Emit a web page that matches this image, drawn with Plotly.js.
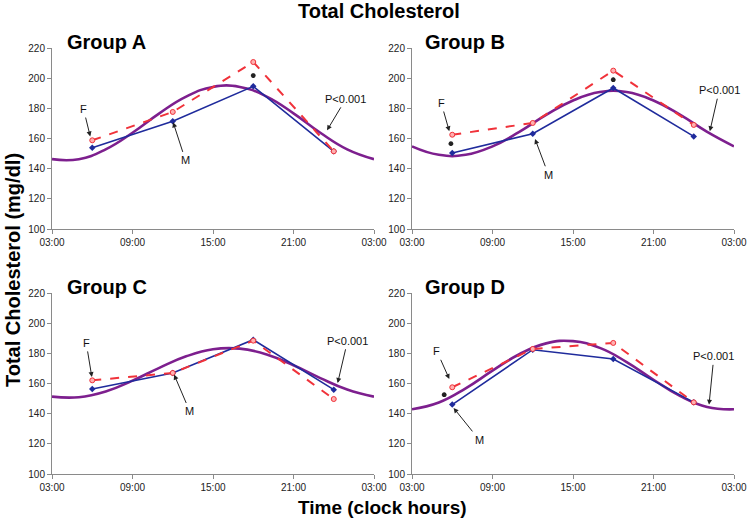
<!DOCTYPE html>
<html><head><meta charset="utf-8">
<script src="https://cdn.plot.ly/plotly-3.0.1.min.js"></script>
<style>html,body{margin:0;padding:0;background:#fff}#chart{width:749px;height:521px}</style>
</head><body><div id="chart"></div>
<script>
// Sampling times (clock hours; 6 = 06:00, 24 = 00:00)
const sampleHours = [6, 12, 18, 24];
// Cosinor curve sample hours (03:00 .. 03:00 next day)
const curveHours = [3, 5, 7, 9, 11, 13, 15, 17, 19, 21, 23, 25, 27];
const tickVals = [3, 9, 15, 21, 27];
const tickLabels = ["03:00", "09:00", "15:00", "21:00", "03:00"];
const groups = ["Group A", "Group B", "Group C", "Group D"];

// Females (F), red dashed
const femaleA = [158.8, 177.6, 210.7, 151.5];
const femaleB = [162.5, 170.3, 205.0, 169.0];
const femaleC = [162.1, 167.0, 188.4, 149.7];
const femaleD = [157.5, 182.9, 186.9, 147.5];
// Males (M), blue solid
const maleA = [153.9, 171.4, 194.6, 151.5];
const maleB = [150.4, 163.2, 193.5, 161.4];
const maleC = [156.4, 167.0, 189.0, 155.9];
const maleD = [146.0, 182.4, 176.2, 147.5];
// Fitted cosinor curves, purple
const cosinorA = [146.3, 146.3, 152.8, 163.8, 176.7, 187.8, 194.2, 194.2, 187.8, 176.7, 163.8, 152.8, 146.3];
const cosinorB = [154.8, 149.2, 149.2, 154.8, 164.4, 175.6, 185.2, 190.8, 190.8, 185.2, 175.6, 164.4, 154.8];
const cosinorC = [151.3, 150.9, 154.7, 161.9, 170.4, 178.0, 182.7, 183.1, 179.3, 172.1, 163.6, 156.0, 151.3];
const cosinorD = [142.9, 147.4, 156.8, 168.5, 179.4, 186.6, 188.1, 183.6, 174.2, 162.5, 151.6, 144.4, 142.9];
// Significance marks (*)
const starHours = [[18], [5.9, 18], [], [5.4]];
const starValues = [[201.7], [156.6, 199.0], [], [152.6]];
// Label arrows: [labelHour, labelValue, headHour, headValue]
const labelF = [[5.35, 179.5, 5.85, 161.4], [5.18, 183.5, 5.78, 164.8], [5.55, 186.9, 5.97, 164.3], [4.86, 181.3, 5.78, 163.0]];
const labelM = [[12.95, 145.5, 12.03, 170.7], [13.17, 136.0, 12.17, 159.7], [13.27, 141.5, 12.1, 165.9], [8.0, 122.8, 6.1, 143.8]];
const labelP = [[24.9, 186.2, 23.5, 165.4], [25.9, 192.0, 25.2, 164.8], [25.03, 188.3, 24.29, 160.3], [25.5, 178.0, 25.14, 146.0]];

const females = [femaleA, femaleB, femaleC, femaleD];
const males = [maleA, maleB, maleC, maleD];
const cosinors = [cosinorA, cosinorB, cosinorC, cosinorD];

const FONT = "Liberation Sans, Arial, Helvetica, sans-serif";
const W = 749, H = 521;
const xDom = [[52 / W, 374 / W], [412 / W, 734 / W], [52 / W, 374 / W], [412 / W, 734 / W]];
const yDom = [[1 - 229 / H, 1 - 48 / H], [1 - 229 / H, 1 - 48 / H], [1 - 474 / H, 1 - 293 / H], [1 - 474 / H, 1 - 293 / H]];
const groupPos = [[65, 42], [423, 42], [65, 287], [423, 287]];

const traces = [];
const layout = {
  width: W, height: H,
  margin: {l: 0, r: 0, t: 0, b: 0},
  paper_bgcolor: "#fff", plot_bgcolor: "#fff",
  showlegend: false,
  font: {family: FONT, color: "#222"},
  annotations: [],
};

for (let i = 0; i < 4; i++) {
  const sfx = i === 0 ? "" : String(i + 1);
  const xa = "x" + sfx, ya = "y" + sfx;
  traces.push({x: curveHours, y: cosinors[i], xaxis: xa, yaxis: ya, mode: "lines",
    line: {color: "#7d1f8e", width: 2.6, shape: "spline", smoothing: 1.3}, hoverinfo: "skip"});
  traces.push({x: sampleHours, y: males[i], xaxis: xa, yaxis: ya, mode: "lines+markers",
    line: {color: "#1f2b9c", width: 1.6},
    marker: {symbol: "diamond", size: 5, color: "#1f2b9c"}});
  traces.push({x: sampleHours, y: females[i], xaxis: xa, yaxis: ya, mode: "lines+markers",
    line: {color: "#f0323a", width: 2, dash: "dash"},
    marker: {symbol: "circle", size: 5, color: "#ffb0b0", line: {color: "#f0323a", width: 1}}});
  if (starHours[i].length) {
    traces.push({x: starHours[i], y: starValues[i], xaxis: xa, yaxis: ya, mode: "markers",
      marker: {symbol: "asterisk-open", size: 4, color: "#222", line: {color: "#222", width: 1.5}}});
  }
  layout["xaxis" + sfx] = {
    domain: xDom[i], range: [3, 27], anchor: ya,
    tickvals: tickVals, ticktext: tickLabels, tickangle: 0,
    showgrid: false, zeroline: false, showline: true, linecolor: "#8a8a8a", linewidth: 1,
    ticks: "outside", ticklen: 4, tickcolor: "#8a8a8a",
    tickfont: {family: FONT, size: 10, color: "#222"}, fixedrange: true
  };
  layout["yaxis" + sfx] = {
    domain: yDom[i], range: [100, 220], anchor: xa,
    tickvals: [100, 120, 140, 160, 180, 200, 220],
    showgrid: false, zeroline: false, showline: true, linecolor: "#8a8a8a", linewidth: 1,
    ticks: "outside", ticklen: 4, tickcolor: "#8a8a8a",
    tickfont: {family: FONT, size: 10, color: "#222"}, fixedrange: true
  };
  const labs = [["F", labelF[i]], ["M", labelM[i]], ["P<0.001", labelP[i]]];
  for (const [txt, p] of labs) {
    layout.annotations.push({
      xref: xa, yref: ya, axref: xa, ayref: ya,
      x: p[2], y: p[3], ax: p[0], ay: p[1],
      text: txt, showarrow: true, arrowhead: 2, arrowsize: 1, arrowwidth: 1, arrowcolor: "#222",
      font: {family: FONT, size: 11, color: "#111"}, standoff: 0, startstandoff: 1
    });
  }
  layout.annotations.push({
    xref: "paper", yref: "paper", x: groupPos[i][0] / W, y: 1 - groupPos[i][1] / H,
    xanchor: "left", yanchor: "middle", showarrow: false,
    text: "<b>" + groups[i] + "</b>", font: {family: FONT, size: 20, color: "#000"}
  });
}

layout.annotations.push({xref: "paper", yref: "paper", x: 379 / W, y: 1 - 11 / H, xanchor: "center", yanchor: "middle",
  showarrow: false, text: "<b>Total Cholesterol</b>", font: {family: FONT, size: 20, color: "#000"}});
layout.annotations.push({xref: "paper", yref: "paper", x: 382 / W, y: 1 - 507 / H, xanchor: "center", yanchor: "middle",
  showarrow: false, text: "<b>Time (clock hours)</b>", font: {family: FONT, size: 19, color: "#000"}});
layout.annotations.push({xref: "paper", yref: "paper", x: 13 / W, y: 1 - 270 / H, xanchor: "center", yanchor: "middle",
  showarrow: false, textangle: -90, text: "<b>Total Cholesterol (mg/dl)</b>", font: {family: FONT, size: 20, color: "#000"}});

Plotly.newPlot("chart", traces, layout, {staticPlot: true, displayModeBar: false});
</script></body></html>
